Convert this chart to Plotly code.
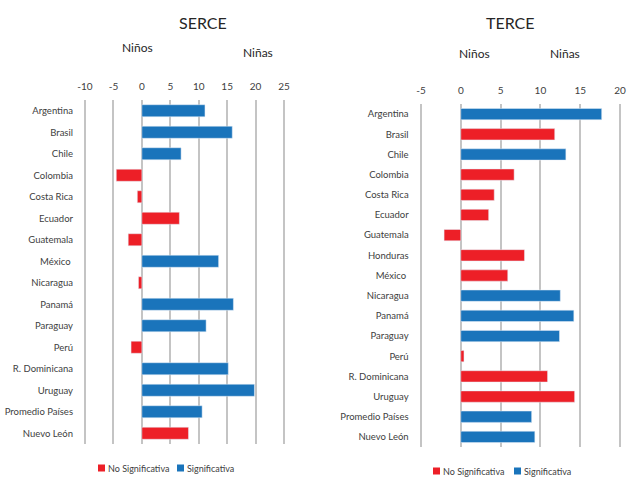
import plotly.graph_objects as go

serce_countries = ["Argentina", "Brasil", "Chile", "Colombia", "Costa Rica", "Ecuador",
                   "Guatemala", "México ", "Nicaragua", "Panamá", "Paraguay", "Perú",
                   "R. Dominicana", "Uruguay", "Promedio Países", "Nuevo León"]
serce_values = [11.1, 15.9, 6.9, -4.5, -0.8, 6.6, -2.4, 13.5, -0.6, 16.1, 11.3, -1.9,
                15.2, 19.8, 10.6, 8.2]
serce_sig = [True, True, True, False, False, False, False, True, False, True, True, False,
             True, True, True, False]

terce_countries = ["Argentina", "Brasil", "Chile", "Colombia", "Costa Rica", "Ecuador",
                   "Guatemala", "Honduras", "México ", "Nicaragua", "Panamá", "Paraguay",
                   "Perú", "R. Dominicana", "Uruguay", "Promedio Países", "Nuevo León"]
terce_values = [17.7, 11.8, 13.2, 6.7, 4.2, 3.5, -2.1, 8.0, 5.9, 12.5, 14.2, 12.4, 0.4,
                10.9, 14.3, 8.9, 9.3]
terce_sig = [True, False, True, False, False, False, False, False, False, True, True, True,
             False, False, False, True, True]

serce_ticks = [-10, -5, 0, 5, 10, 15, 20, 25]
serce_ticktext = ["-10", "-5", "0", "5", "10", "15", "20", "25"]
terce_ticks = [-5, 0, 5, 10, 15, 20]
terce_ticktext = ["-5", "0", "5", "10", "15", "20"]
legend_labels = ["No Significativa", "Significativa"]

RED = "#ed1f27"
BLUE = "#1a74bb"
FONT = "Lato, Roboto, sans-serif"
GRID = "#c4c4c4"
TXT = "#404040"
W, H = 628, 477

fig = go.Figure()


def add(cats, vals, sig, xa, ya):
    ns = [v if not s else None for v, s in zip(vals, sig)]
    sg = [v if s else None for v, s in zip(vals, sig)]
    fig.add_trace(go.Bar(y=cats, x=ns, orientation="h", marker_color=RED,
                         name=legend_labels[0], xaxis=xa, yaxis=ya, showlegend=False,
                         width=0.56))
    fig.add_trace(go.Bar(y=cats, x=sg, orientation="h", marker_color=BLUE,
                         name=legend_labels[1], xaxis=xa, yaxis=ya, showlegend=False,
                         width=0.56))


add(serce_countries, serce_values, serce_sig, "x", "y")
add(terce_countries, terce_values, terce_sig, "x2", "y2")

axis_common = dict(side="top", showgrid=True, gridcolor=GRID, gridwidth=1.5,
                   zeroline=True, zerolinecolor=GRID, zerolinewidth=1.5,
                   showline=False, ticks="", tickfont=dict(size=10, color=TXT),
                   fixedrange=True, automargin=False, ticklabelstandoff=7)
yaxis_common = dict(autorange="reversed", tickfont=dict(size=9.5, color=TXT), ticks="",
                    showgrid=False, ticklabelstandoff=9, automargin=False,
                    fixedrange=True)


def px(x):
    return x / W


def py(y):
    return 1 - y / H


annotations = [
    dict(text="SERCE", x=px(203), y=py(22), font=dict(size=16, color="#262626")),
    dict(text="Niños", x=px(137), y=py(48), font=dict(size=12, color="#262626")),
    dict(text="Niñas", x=px(258), y=py(52), font=dict(size=12, color="#262626")),
    dict(text="TERCE", x=px(510), y=py(22), font=dict(size=16, color="#262626")),
    dict(text="Niños", x=px(474), y=py(53), font=dict(size=12, color="#262626")),
    dict(text="Niñas", x=px(565), y=py(53), font=dict(size=12, color="#262626")),
]
shapes = []
# manual legends (key squares + labels)
for (rx, bx, ly) in [(98, 177, 468), (433, 514, 471)]:
    for kx, col, lab in [(rx, RED, legend_labels[0]), (bx, BLUE, legend_labels[1])]:
        shapes.append(dict(type="rect", xref="paper", yref="paper",
                           x0=px(kx), x1=px(kx + 7), y0=py(ly + 3.5), y1=py(ly - 3.5),
                           fillcolor=col, line=dict(width=0)))
        annotations.append(dict(text=lab, x=px(kx + 8), y=py(ly), xanchor="left",
                                font=dict(size=9, color=TXT)))
for a in annotations:
    a.update(xref="paper", yref="paper", showarrow=False)
    a.setdefault("xanchor", "center")
    a["yanchor"] = "middle"

# pad ranges slightly so the edge gridlines are drawn; domains widened to keep scale
s_pad, t_pad = 0.35, 0.3
s_scale = (284 - 85) / 35.0
t_scale = (620 - 421) / 25.0

fig.update_layout(
    width=W, height=H,
    margin=dict(l=0, r=0, t=0, b=0, autoexpand=False),
    paper_bgcolor="white", plot_bgcolor="white",
    barmode="relative", showlegend=False,
    font=dict(family=FONT, color=TXT),
    xaxis=dict(domain=[px(85 - s_pad * s_scale), px(284 + s_pad * s_scale)],
               range=[-10 - s_pad, 25 + s_pad], tickvals=serce_ticks,
               ticktext=serce_ticktext, anchor="y", **axis_common),
    yaxis=dict(domain=[py(444), py(100)], anchor="x", **yaxis_common),
    xaxis2=dict(domain=[px(421 - t_pad * t_scale), px(620 + t_pad * t_scale)],
                range=[-5 - t_pad, 20 + t_pad], tickvals=terce_ticks,
                ticktext=terce_ticktext, anchor="y2", **axis_common),
    yaxis2=dict(domain=[py(447), py(104)], anchor="x2", **yaxis_common),
    annotations=annotations,
    shapes=shapes,
)

fig.write_html("out.html")
